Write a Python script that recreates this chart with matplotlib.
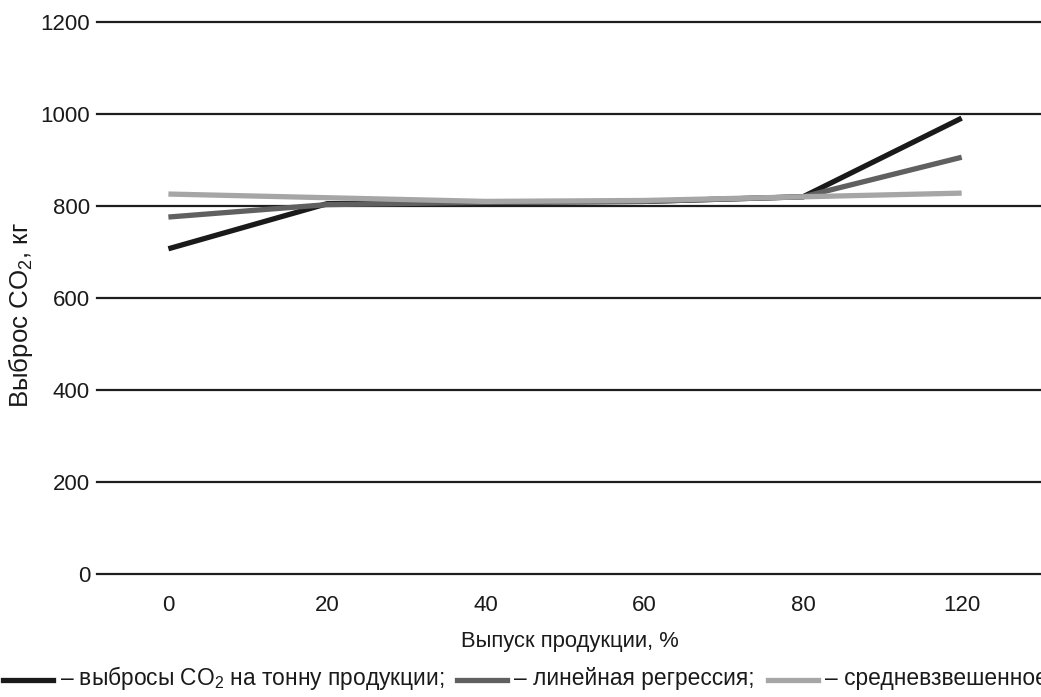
import matplotlib.pyplot as plt
from matplotlib.lines import Line2D

# data
categories = ['0', '20', '40', '60', '80', '120']
emissions = [707, 805, 808, 810, 820, 991]      # выбросы CO2 на тонну продукции
regression = [776, 803, 808, 810, 820, 906]     # линейная регрессия
weighted = [826, 818, 810, 812, 820, 828]       # средневзвешенное
yticks = [0, 200, 400, 600, 800, 1000, 1200]

series_labels = ['– выбросы CO$_2$ на тонну продукции;',
                 '– линейная регрессия;',
                 '– средневзвешенное']
series_colors = ['#1a1a1a', '#606060', '#a6a6a6']

plt.rcParams['font.family'] = ['Liberation Sans', 'DejaVu Sans']
plt.rcParams['mathtext.fontset'] = 'custom'
plt.rcParams['mathtext.rm'] = 'Liberation Sans'

W, H = 1041, 697
fig = plt.figure(figsize=(W / 100, H / 100), dpi=100)
ax = fig.add_axes([97 / W, 1 - 574 / H, (W - 97) / W, (574 - 22) / H])
renderer = fig.canvas.get_renderer()


def fit_size(text, target_px, rotation=0):
    # font size that makes the text about target_px long
    t = fig.text(0, 0, text, fontsize=10, rotation=rotation)
    bb = t.get_window_extent(renderer)
    t.remove()
    length = bb.height if rotation else bb.width
    return 10 * target_px / length


x = list(range(len(categories)))

# horizontal grid lines
for y in yticks:
    ax.axhline(y, color='#1e1e1e', linewidth=1.6, zorder=1, clip_on=False)

for vals, c, z in zip([emissions, regression, weighted], series_colors, [3, 4, 5]):
    ax.plot(x, vals, color=c, linewidth=3.8, solid_capstyle='butt', zorder=z)

ax.set_xlim(-0.45, 5.5)
ax.set_ylim(0, 1200)
ax.set_xticks(x)
ax.set_xticklabels(categories)
ax.set_yticks(yticks)
for s in ax.spines.values():
    s.set_visible(False)
ax.tick_params(axis='both', length=0, labelsize=16, colors='#1a1a1a')
ax.tick_params(axis='y', pad=5)
ax.tick_params(axis='x', pad=15)

fs_lab = fit_size('Выпуск продукции, %', 220)
fig.text(570 / W, 1 - 642 / H, 'Выпуск продукции, %', ha='center', va='center',
         fontsize=fs_lab, color='#1a1a1a')
ylab = 'Выброс CO$_2$, кг'
fig.text(21 / W, 1 - 315 / H, ylab, rotation=90, ha='center', va='center',
         fontsize=fit_size(ylab, 188, rotation=90), color='#1a1a1a')

# legend row at the bottom, laid out left to right
ly = 1 - 680 / H
fs_leg = fit_size(series_labels[0], 385)
xpos = 3
for lab, c in zip(series_labels, series_colors):
    fig.add_artist(Line2D([xpos / W, (xpos + 50) / W], [ly, ly], color=c,
                          linewidth=3.8, transform=fig.transFigure))
    t = fig.text((xpos + 57) / W, 1 - 678 / H, lab, ha='left', va='center',
                 fontsize=fs_leg, color='#1a1a1a')
    bb = t.get_window_extent(renderer)
    xpos = bb.x1 + 13

fig.savefig('out.png', dpi=100)
